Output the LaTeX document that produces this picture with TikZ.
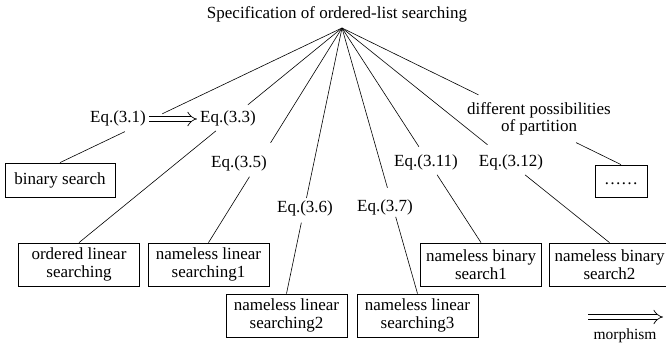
\documentclass[tikz,border=0pt]{standalone}
\usepackage{fontspec}
\setmainfont{Liberation Serif}
\usetikzlibrary{arrows.meta,calc}

% a connector from #1 to #2, interrupted between fractions #3 and #4 where a label sits
\newcommand\splitlink[4]{\draw[link] (#1) -- ($(#1)!#3!(#2)$) ($(#1)!#4!(#2)$) -- (#2);}

\begin{document}
\begin{tikzpicture}[x=1pt,y=-1pt,
  every node/.style={font=\fontsize{17}{18}\selectfont, inner sep=0pt},
  box/.style={draw, line width=0.8pt, align=center, minimum width=121pt, minimum height=43pt},
  link/.style={line width=0.6pt},
  morph/.style={double, double distance=4.5pt, line width=0.7pt, -{Implies[scale=1.5]}}]

\useasboundingbox (0,0) rectangle (666,346);

% root of the tree
\node (title) at (337,14) {Specification of ordered-list searching};
\coordinate (apex) at (342,28);

% equation labels
\node (e31)  at (118,118) {Eq.(3.1)};
\node (e33)  at (228,118) {Eq.(3.3)};
\node (e35)  at (239,163) {Eq.(3.5)};
\node (e36)  at (305,208) {Eq.(3.6)};
\node (e37)  at (385,207) {Eq.(3.7)};
\node (e311) at (426,162) {Eq.(3.11)};
\node (e312) at (511,162) {Eq.(3.12)};
\node[align=center, font=\fontsize{17}{17}\selectfont] (diff) at (539,119)
  {different possibilities\\of partition};

% resulting algorithms
\node[box, minimum width=110pt, minimum height=34pt] (bs) at (60,180) {binary search};
\node[box] (ols)  at (79,264.5)    {ordered linear\\searching};
\node[box] (nls1) at (208.5,264.5) {nameless linear\\searching1};
\node[box] (nls2) at (286.5,315.5) {nameless linear\\searching2};
\node[box] (nls3) at (417.5,315.5) {nameless linear\\searching3};
\node[box] (nbs1) at (481,264.5)   {nameless binary\\search1};
\node[box] (nbs2) at (609.5,264.5) {nameless binary\\search2};
\node[box, minimum width=52pt, minimum height=32pt] (dots) at (621,181) {\strut……};

% branches from the specification
\splitlink{apex}{bs.north}{0.637}{0.770}
\splitlink{apex}{ols.north}{0.358}{0.479}
\splitlink{apex}{nls1.north}{0.535}{0.693}
\splitlink{apex}{nls2.north}{0.640}{0.733}
\splitlink{apex}{nls3.north}{0.602}{0.711}
\splitlink{apex}{nbs1.north}{0.553}{0.684}
\splitlink{apex}{nbs2.north}{0.544}{0.684}
\splitlink{apex}{dots.north}{0.489}{0.839}

% morphism between equations
\draw[morph] ($(e31.east)+(3,1)$) -- ($(e33.west)+(-3,1)$);

% legend
\coordinate (lg1) at (588,317);
\coordinate (lg2) at (663,317);
\draw[morph] (lg1) -- (lg2);
\node[font=\fontsize{15.5}{16}\selectfont] (mlab) at (625,336) {morphism};
\end{tikzpicture}
\end{document}
